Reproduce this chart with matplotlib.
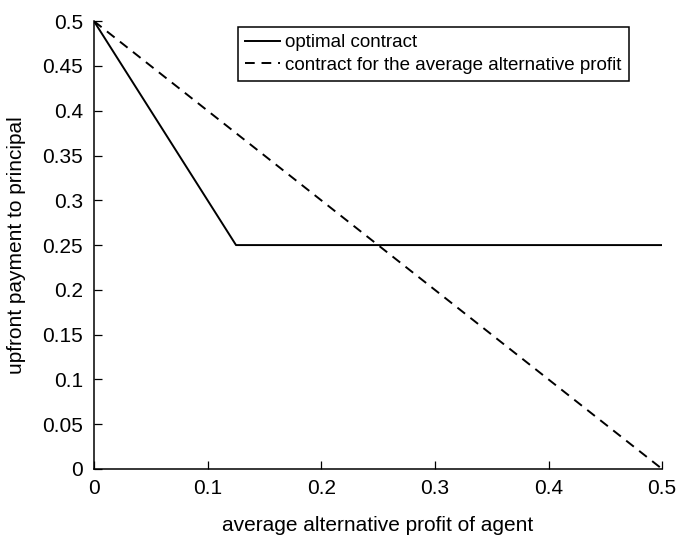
import matplotlib
matplotlib.use("Agg")
import matplotlib.pyplot as plt

# data
alt_profit = [0.0, 0.125, 0.5]
optimal_payment = [0.5, 0.25, 0.25]
avg_profit = [0.0, 0.5]
avg_payment = [0.5, 0.0]

plt.rcParams['font.family'] = ['Liberation Sans', 'DejaVu Sans']
plt.rcParams['font.size'] = 15

fig = plt.figure(figsize=(6.78, 5.35), dpi=100)
ax = fig.add_axes([0.1386, 0.1234, 0.838, 0.837])

ax.plot(alt_profit, optimal_payment, color='black', lw=1.4, label='optimal contract')
ax.plot(avg_profit, avg_payment, color='black', lw=1.4, ls=(0, (5, 3.5)),
        label='contract for the average alternative profit')

ax.set_xlim(0, 0.5)
ax.set_ylim(0, 0.5)
ax.set_xticks([0, 0.1, 0.2, 0.3, 0.4, 0.5])
ax.set_xticklabels(['0', '0.1', '0.2', '0.3', '0.4', '0.5'])
ax.set_yticks([0, 0.05, 0.1, 0.15, 0.2, 0.25, 0.3, 0.35, 0.4, 0.45, 0.5])
ax.set_yticklabels(['0', '0.05', '0.1', '0.15', '0.2', '0.25', '0.3', '0.35', '0.4', '0.45', '0.5'])
ax.tick_params(direction='in', length=6, width=0.9, top=False, right=False, labelsize=15)
ax.tick_params(axis='x', pad=7)
ax.tick_params(axis='y', pad=8)
for s in ['left', 'bottom']:
    ax.spines[s].set_linewidth(1.1)
ax.spines['top'].set_visible(False)
ax.spines['right'].set_visible(False)

ax.set_xlabel('average alternative profit of agent', labelpad=13)
ax.set_ylabel('upfront payment to principal')
ax.yaxis.set_label_coords(-0.12, 0.5)

leg = ax.legend(loc='upper left', bbox_to_anchor=(0.2535, 0.987), handlelength=1.87,
                handletextpad=0.27, borderaxespad=0, borderpad=0.38, labelspacing=0.3,
                fontsize=13.5, fancybox=False, edgecolor='black', framealpha=1)
leg.get_frame().set_linewidth(1.1)

fig.savefig('out.png', dpi=100)
